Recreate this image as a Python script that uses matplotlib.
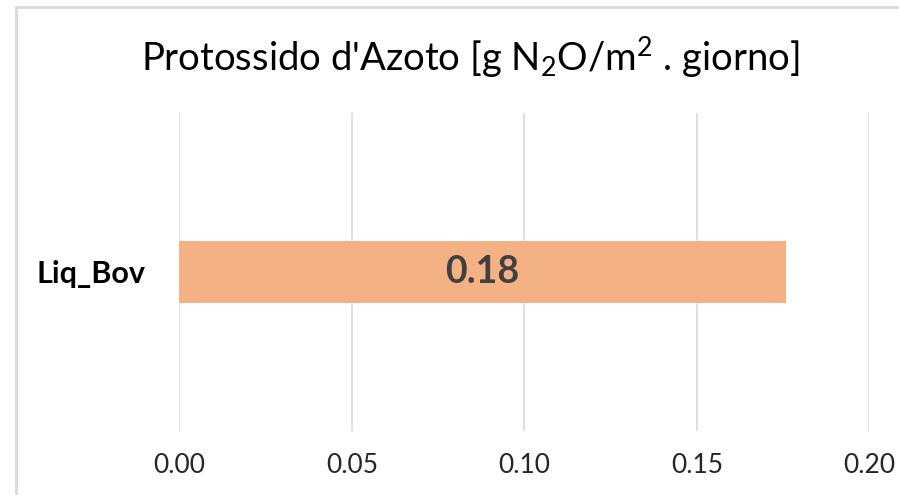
import matplotlib
matplotlib.use("Agg")
import matplotlib.pyplot as plt
from matplotlib.patches import Rectangle

plt.rcParams['font.family'] = ['Lato', 'DejaVu Sans']
plt.rcParams['mathtext.fontset'] = 'custom'
plt.rcParams['mathtext.rm'] = 'Lato'

categories = ["Liq_Bov"]
values = [0.1758]
xticks = [0.00, 0.05, 0.10, 0.15, 0.20]
title = r"Protossido d'Azoto [g N$\mathregular{_2}$O/m$\mathregular{^2}$ . giorno]"

W, H = 899, 495
fig = plt.figure(figsize=(W / 100, H / 100), dpi=100)

# chart border (light grey, running off the right and bottom edges)
fig.patches.append(Rectangle((16 / W, -0.1), 1.2, 1 - 7 / H + 0.1,
                             transform=fig.transFigure, fill=False,
                             edgecolor="#D9D9D9", linewidth=2))

ax = fig.add_axes([179.3 / W, 1 - 431 / H, 690 / W, 318 / H])
bars = ax.barh(range(len(categories)), values, height=0.195, color="#F4B183")
ax.set_xlim(0, 0.20)
ax.set_ylim(-0.5, 0.5)
ax.set_xticks(xticks)
ax.set_xticklabels([f"{t:.2f}" for t in xticks], fontsize=19, color="#262626")
ax.set_yticks(range(len(categories)))
ax.set_yticklabels(categories, fontsize=22, fontweight="bold", color="#000000")
ax.tick_params(axis="x", length=0, pad=16)
ax.tick_params(axis="y", length=0, pad=24)
ax.xaxis.grid(True, color="#D9D9D9", linewidth=1.2)
ax.set_axisbelow(True)
for s in ax.spines.values():
    s.set_visible(False)

for b, v in zip(bars, values):
    ax.text(v / 2, b.get_y() + b.get_height() / 2, f"{v:.2f}",
            ha="center", va="center", fontsize=27, fontweight="bold",
            color="#404040")

fig.text(470 / W, 1 - 57 / H, title, ha="center", va="center",
         fontsize=27.5, color="#000000")

fig.savefig("out.png", dpi=100)
